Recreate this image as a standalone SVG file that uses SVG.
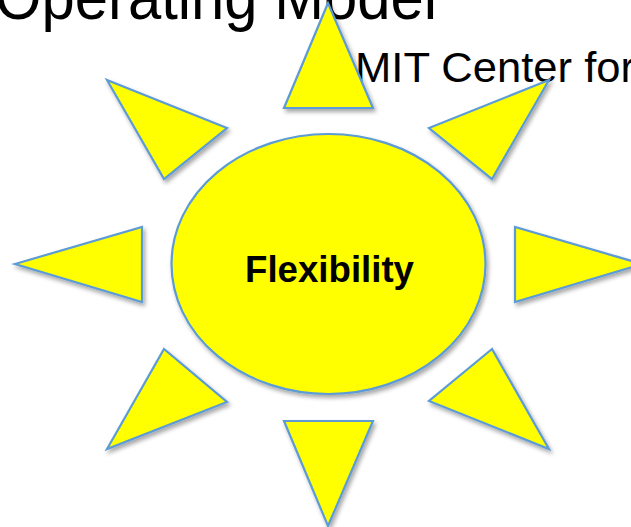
<svg xmlns="http://www.w3.org/2000/svg" width="631" height="527" viewBox="0 0 631 527">
<defs>
<filter id="sh" x="-20%" y="-20%" width="140%" height="140%">
<feDropShadow dx="2" dy="3" stdDeviation="2" flood-color="#000" flood-opacity="0.35"/>
</filter>
</defs>
<style>
.ray{fill:#FFFF00;stroke:#5B9BD5;stroke-width:2.2;stroke-linejoin:miter;filter:url(#sh)}
.core{fill:#FFFF00;stroke:#5B9BD5;stroke-width:2.2;filter:url(#sh)}
.t{font-family:"Liberation Sans",Arial,sans-serif;fill:#000}
</style>
<rect width="631" height="527" fill="#fff"/>
<g id="title"><text class="t" x="-5" y="19" font-size="64" textLength="442" lengthAdjust="spacingAndGlyphs">Operating Model</text></g>
<g id="subtitle"><text class="t" x="355" y="82" font-size="43" textLength="280" lengthAdjust="spacingAndGlyphs">MIT Center for</text></g>
<g id="rays">
<polygon id="ray-top" class="ray" points="328,3 284,108 373,108"/>
<polygon id="ray-upper-left" class="ray" points="107,80 227,128 164,179"/>
<polygon id="ray-upper-right" class="ray" points="549,80 429,128 492,179"/>
<polygon id="ray-left" class="ray" points="15,264 142,227 142,302"/>
<polygon id="ray-right" class="ray" points="642,264 515,227 515,302"/>
<polygon id="ray-lower-left" class="ray" points="164,349 227,402 107,449"/>
<polygon id="ray-lower-right" class="ray" points="492,349 429,401 549,449"/>
<polygon id="ray-bottom" class="ray" points="284,421 373,421 328,526"/>
</g>
<g id="flexibility">
<ellipse class="core" cx="328.5" cy="264" rx="157" ry="130"/>
<text class="t" x="329.5" y="282" font-size="37" font-weight="bold" text-anchor="middle" textLength="169" lengthAdjust="spacingAndGlyphs">Flexibility</text>
</g>
</svg>
